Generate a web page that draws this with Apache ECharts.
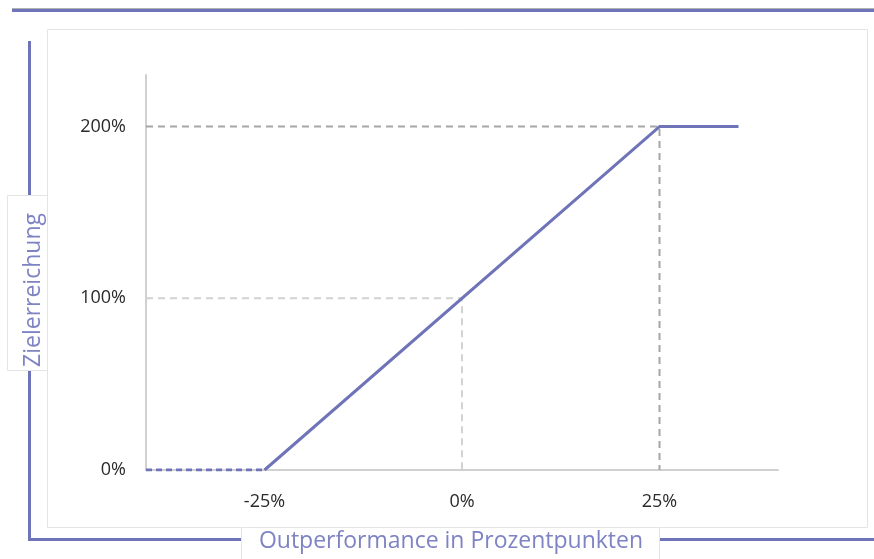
<!DOCTYPE html>
<html>
<head>
<meta charset="utf-8">
<script src="https://cdn.jsdelivr.net/npm/echarts@6/dist/echarts.min.js"></script>
<style>
html,body{margin:0;padding:0;background:#fff;}
#c{width:874px;height:559px;}
</style>
</head>
<body>
<div id="c"></div>
<script>
// Data
var xTickLabels = [-25, 0, 25];
var yTickLabels = [0, 100, 200];
var solidLineX = [-25, 25, 35];
var solidLineY = [0, 200, 200];
var dashedStartX = [-40, -25];
var dashedStartY = [0, 0];
var guideHighX = [-40, 25, 25];
var guideHighY = [200, 200, 0];
var guideMidX = [-40, 0, 0];
var guideMidY = [100, 100, 0];
var xLabel = 'Outperformance in Prozentpunkten';
var yLabel = 'Zielerreichung';

function pairs(xs, ys){ return xs.map(function(x,i){ return [x, ys[i]]; }); }

var purple = '#6f74b8';
var textPurple = '#7e83c3';
var font = '"Open Sans", sans-serif';

var chart = echarts.init(document.getElementById('c'), null, {renderer:'canvas'});
chart.setOption({
  animation:false,
  backgroundColor:'#fff',
  grid:{left:146, right:96, top:75, bottom:89, containLabel:false},
  xAxis:{
    type:'value', min:-40, max:40, interval:5, z:5,
    axisLine:{show:true, onZero:false, lineStyle:{color:'#d0d0d0', width:2}},
    axisTick:{show:false},
    splitLine:{show:false},
    axisLabel:{
      margin:23, color:'#2a2a2a', fontSize:18, fontFamily:font,
      formatter:function(v){ return xTickLabels.indexOf(v)>=0 ? v+'%' : ''; }
    }
  },
  yAxis:{
    type:'value', min:0, max:230, interval:10, z:5,
    axisLine:{show:true, onZero:false, lineStyle:{color:'#d0d0d0', width:2}},
    axisTick:{show:false},
    splitLine:{show:false},
    axisLabel:{
      margin:20, color:'#2a2a2a', fontSize:18, fontFamily:font,
      formatter:function(v){ return yTickLabels.indexOf(v)>=0 ? v+'%' : ''; }
    }
  },
  graphic:[
    // top bar
    {type:'rect', shape:{x:12, y:8, width:862, height:1}, style:{fill:'#b0b0b0'}, z:-5},
    {type:'rect', shape:{x:12, y:9, width:862, height:3}, style:{fill:purple}, z:-5},
    // left vertical line and bottom line
    {type:'rect', shape:{x:28, y:41, width:3, height:500}, style:{fill:purple}, z:-5},
    {type:'rect', shape:{x:28, y:538, width:846, height:3}, style:{fill:purple}, z:-5},
    // inner panel
    {type:'rect', shape:{x:47.5, y:29.5, width:820, height:498}, style:{fill:'#fff', stroke:'#e4e4e4', lineWidth:1}, z:-4},
    // y label box
    {type:'rect', shape:{x:7.5, y:195.5, width:40, height:175}, style:{fill:'#fff', stroke:'#e4e4e4', lineWidth:1}, z:-3},
    {type:'text', x:33, y:290, rotation:Math.PI/2,
      style:{text:yLabel, fill:textPurple, font:'23px '+font, align:'center', verticalAlign:'middle'}, z:-2},
    // x label box
    {type:'rect', shape:{x:241.5, y:527.5, width:418, height:40}, style:{fill:'#fff', stroke:'#e4e4e4', lineWidth:1}, z:-3},
    {type:'text', x:451, y:541,
      style:{text:xLabel, fill:textPurple, font:'23px '+font, align:'center', verticalAlign:'middle'}, z:-2}
  ],
  series:[
    {type:'line', data:pairs(guideMidX, guideMidY), symbol:'none', z:6,
      lineStyle:{color:'#d2d2d2', width:2, type:[7,5]}},
    {type:'line', data:pairs(guideHighX, guideHighY), symbol:'none', z:7,
      lineStyle:{color:'#a6a6a6', width:2, type:[7,5]}},
    {type:'line', data:pairs(dashedStartX, dashedStartY), symbol:'none', z:8,
      lineStyle:{color:purple, width:3, type:[6,4]}},
    {type:'line', data:pairs(solidLineX, solidLineY), symbol:'none', z:8,
      lineStyle:{color:purple, width:3}}
  ]
});
</script>
</body>
</html>
